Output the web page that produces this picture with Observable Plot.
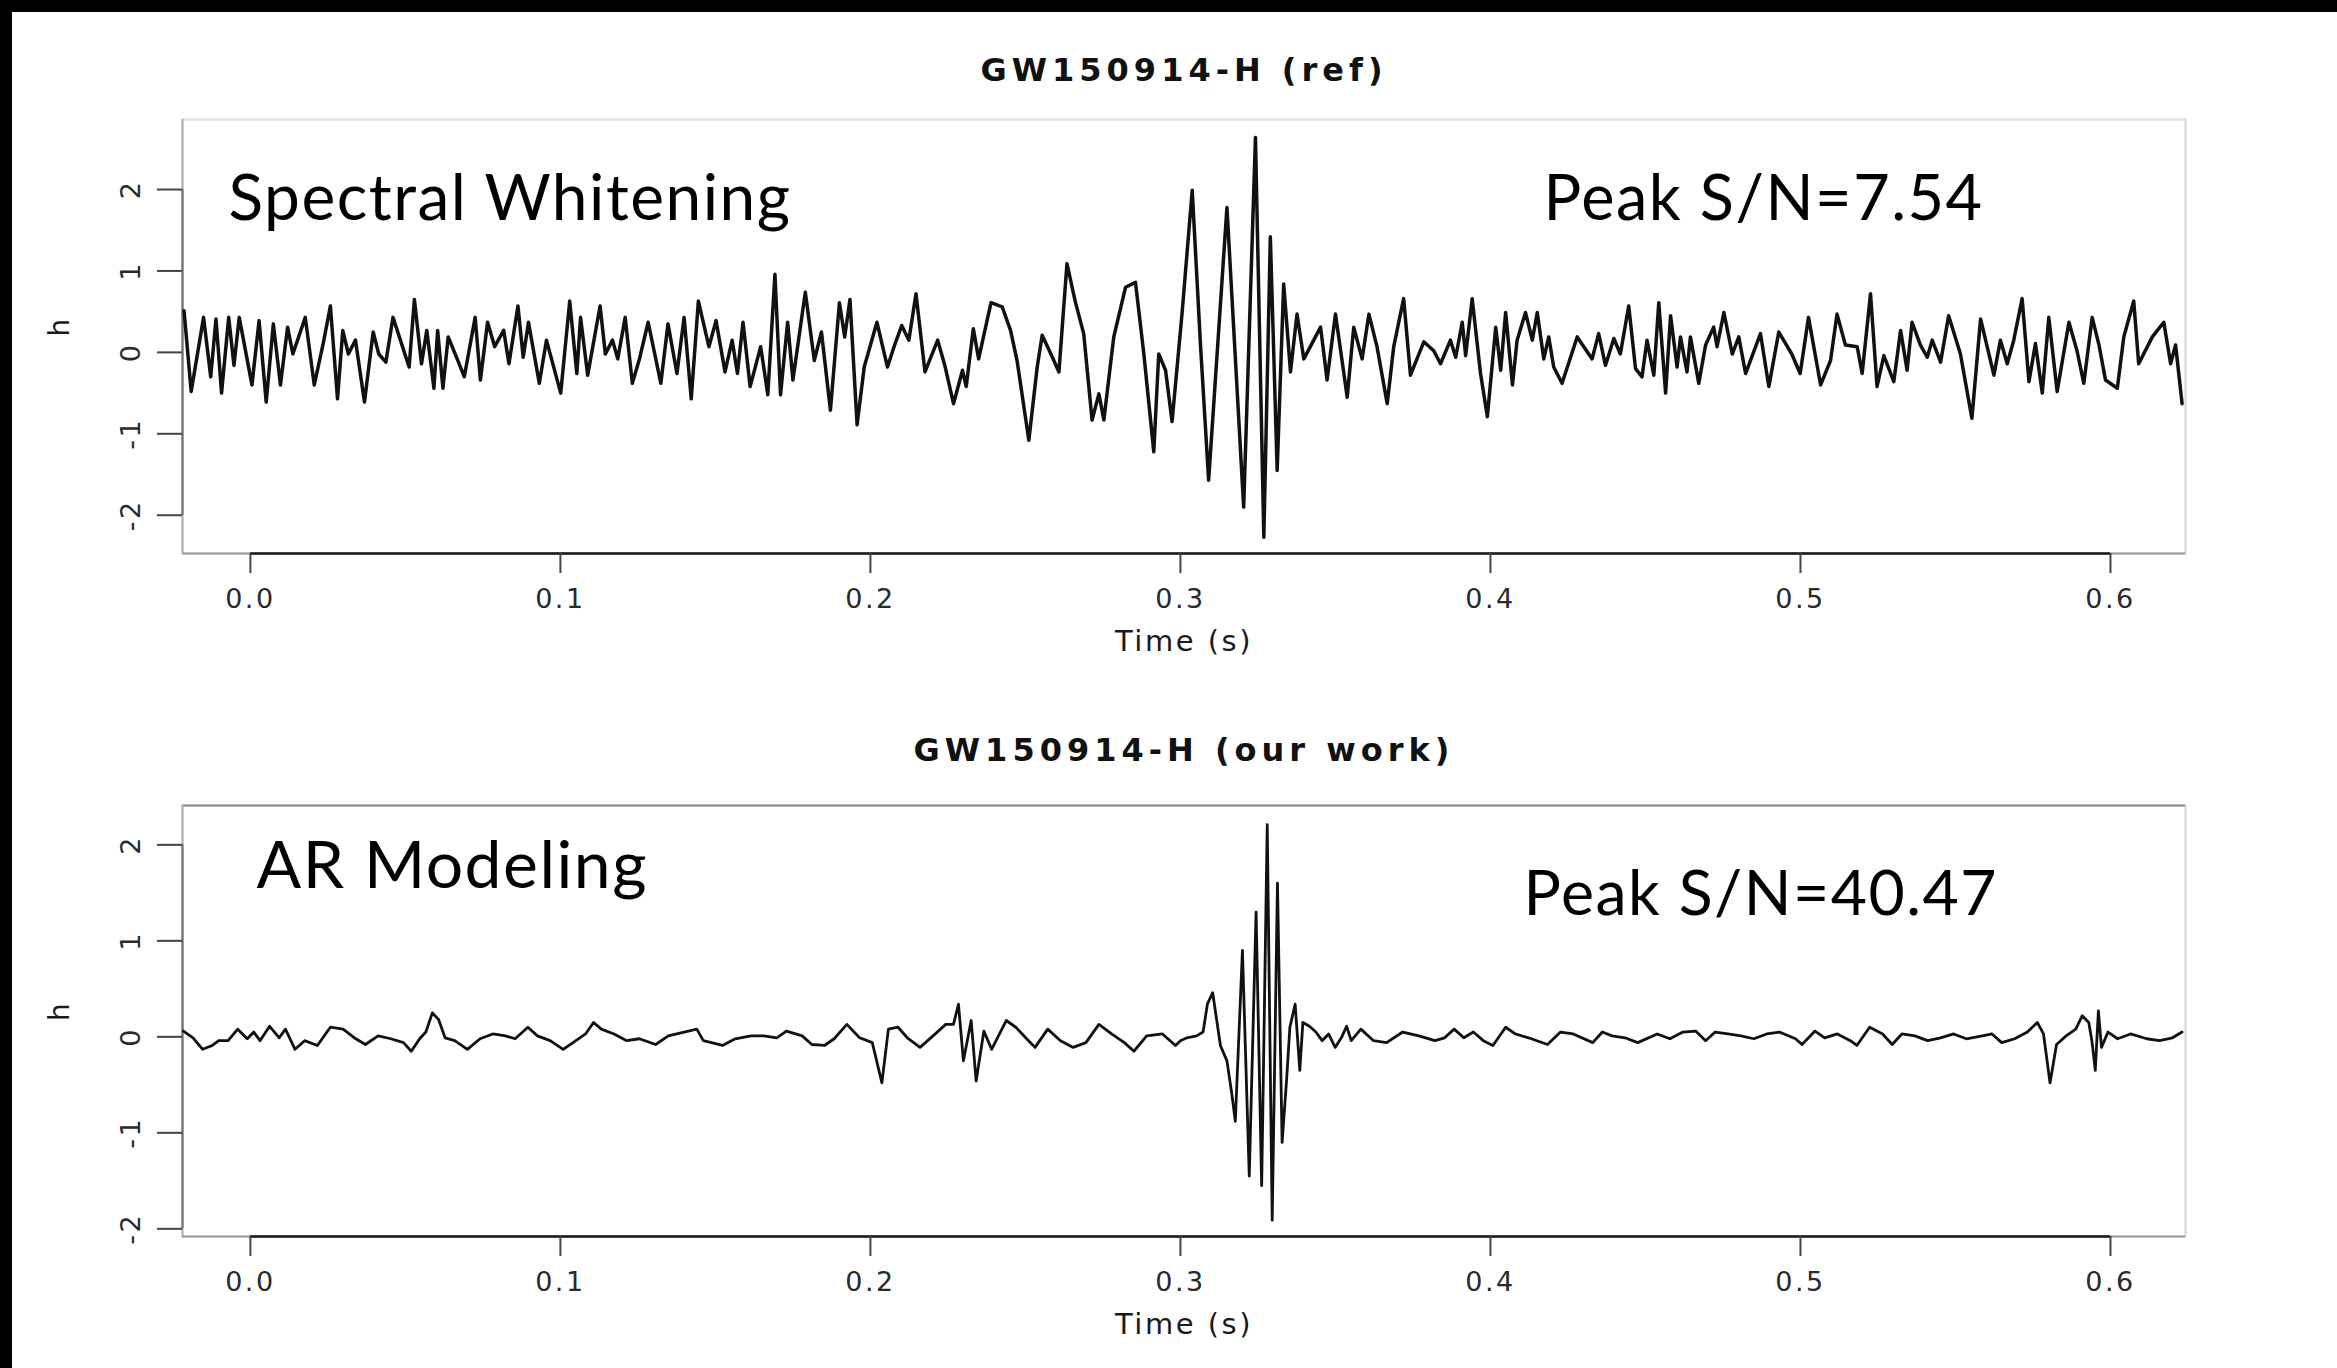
<!DOCTYPE html>
<html><head><meta charset="utf-8">
<script src="https://cdn.jsdelivr.net/npm/d3@7"></script>
<script src="https://cdn.jsdelivr.net/npm/@observablehq/plot@0.6"></script>
<style>
html,body{margin:0;padding:0;background:#000;width:2337px;height:1368px;overflow:hidden;}
#page{position:absolute;left:12px;top:12px;width:2325px;height:1356px;background:#fff;overflow:hidden;}
.panel{position:absolute;left:-12px;}
</style></head>
<body><div id="page"><div id="top" class="panel" style="top:-12px"></div><div id="bottom" class="panel" style="top:668px"></div></div>
<script>
// ---- tick labels / axes ----
const xTicks = [0, 0.1, 0.2, 0.3, 0.4, 0.5, 0.6];
const yTicks = [-2, -1, 0, 1, 2];
const xDomain = [-0.0219, 0.6242];
const refDomain = [-2.47, 2.86];
const arDomain = [-2.08, 2.41];
const titles = ["GW150914-H (ref)", "GW150914-H (our work)"];
const methods = ["Spectral Whitening", "AR Modeling"];
const peaks = ["Peak S/N=7.54", "Peak S/N=40.47"];
const xLabel = "Time (s)";
const yLabel = "h";

// ---- GW150914-H (ref): spectral whitening ----
const refT = [
-0.0214,-0.0191,-0.0151,-0.0128,-0.0111,-0.0093,-0.0070,-0.0053,-0.0036,0.0005,
0.0028,0.0051,0.0074,0.0097,0.0120,0.0137,0.0177,0.0206,0.0235,0.0258,
0.0281,0.0298,0.0316,0.0339,0.0368,0.0396,0.0414,0.0437,0.0460,0.0512,
0.0529,0.0552,0.0569,0.0592,0.0604,0.0621,0.0638,0.0667,0.0690,0.0725,
0.0742,0.0765,0.0788,0.0817,0.0834,0.0863,0.0880,0.0897,0.0932,0.0955,
0.1001,0.1030,0.1053,0.1065,0.1088,0.1128,0.1145,0.1168,0.1185,0.1209,
0.1232,0.1255,0.1283,0.1324,0.1347,0.1376,0.1399,0.1422,0.1445,0.1479,
0.1502,0.1531,0.1554,
0.1571,0.1589,0.1612,0.1646,0.1669,0.1692,0.1710,0.1733,0.1750,0.1790,
0.1819,0.1842,0.1871,0.1900,0.1917,0.1934,0.1957,0.1980,0.2021,0.2055,
0.2078,0.2101,0.2124,0.2147,0.2176,0.2217,0.2240,0.2268,0.2297,0.2309,
0.2332,0.2349,0.2389,
0.2425,0.2452,0.2473,0.2511,0.2538,0.2554,0.2587,0.2608,0.2634,0.2661,
0.2688,0.2715,0.2737,0.2753,0.2785,0.2823,0.2855,0.2882,0.2914,0.2930,
0.2952,0.2973,0.3005,0.3038,0.3065,0.3091,0.3150,0.3204,0.3242,0.3269,
0.3290,0.3312,0.3333,
0.3355,0.3376,0.3398,0.3419,0.3452,0.3473,0.3500,0.3538,0.3559,0.3586,
0.3608,0.3634,0.3667,0.3688,0.3720,0.3742,0.3785,0.3817,0.3839,0.3871,
0.3888,0.3909,0.3920,0.3941,0.3968,0.3990,0.4017,0.4033,0.4049,0.4071,
0.4086,0.4113,0.4135,0.4151,0.4172,0.4188,0.4204,0.4231,0.4280,0.4301,
0.4328,0.4349,0.4371,0.4398,0.4419,0.4446,0.4468,0.4489,0.4505,0.4527,
0.4543,0.4565,0.4581,0.4602,0.4613,0.4634,0.4645,0.4672,0.4694,0.4720,
0.4731,0.4753,0.4780,
0.4801,0.4823,0.4871,0.4898,0.4930,0.4972,0.4999,0.5026,0.5065,0.5097,
0.5118,0.5145,0.5183,0.5199,0.5226,0.5247,0.5269,0.5301,0.5323,0.5344,
0.5360,0.5387,0.5409,0.5425,0.5452,0.5478,0.5516,0.5553,0.5581,0.5624,
0.5645,0.5667,0.5688,0.5715,0.5737,0.5758,0.5780,0.5801,0.5828,0.5866,
0.5892,0.5914,0.5941,0.5963,0.5984,0.6022,0.6043,0.6075,0.6091,0.6135,
0.6172,0.6194,0.6210,0.6231
];
const refH = [
0.51,-0.48,0.43,-0.30,0.41,-0.50,0.43,-0.16,0.43,-0.40,
0.39,-0.61,0.35,-0.40,0.31,-0.02,0.43,-0.40,0.11,0.57,
-0.57,0.27,-0.02,0.15,-0.61,0.25,-0.02,-0.12,0.43,-0.18,
0.65,-0.14,0.27,-0.44,0.27,-0.44,0.19,-0.08,-0.30,0.43,
-0.34,0.37,0.07,0.27,-0.14,0.57,-0.06,0.37,-0.38,0.15,
-0.50,0.63,-0.26,0.43,-0.28,0.57,-0.02,0.15,-0.08,0.43,
-0.38,-0.08,0.37,-0.38,0.35,-0.26,0.43,-0.57,0.63,0.07,
0.39,-0.24,0.15,
-0.26,0.37,-0.42,0.07,-0.52,0.96,-0.52,0.37,-0.34,0.74,
-0.10,0.25,-0.71,0.61,0.19,0.65,-0.89,-0.18,0.37,-0.18,
0.09,0.33,0.15,0.72,-0.24,0.15,-0.16,-0.63,-0.22,-0.42,
0.29,-0.08,0.61,
0.56,0.27,-0.10,-1.08,-0.18,0.21,-0.06,-0.24,1.09,0.62,
0.23,-0.83,-0.51,-0.83,0.19,0.80,0.86,-0.02,-1.22,-0.02,
-0.22,-0.85,0.47,1.99,0.07,-1.57,1.78,-1.90,2.64,-2.27,
1.42,-1.45,0.84,
-0.24,0.47,-0.08,0.07,0.31,-0.34,0.47,-0.55,0.31,-0.08,
0.47,0.07,-0.63,0.07,0.66,-0.28,0.13,0.02,-0.14,0.15,
-0.06,0.37,-0.04,0.66,-0.26,-0.79,0.31,-0.22,0.49,-0.40,
0.15,0.49,0.15,0.49,-0.08,0.19,-0.18,-0.38,0.19,0.07,
-0.08,0.23,-0.16,0.17,-0.02,0.57,-0.20,-0.30,0.15,-0.28,
0.61,-0.50,0.45,-0.18,0.19,-0.24,0.19,-0.38,0.09,0.31,
0.07,0.49,-0.02,
0.19,-0.26,0.23,-0.42,0.25,-0.02,-0.26,0.43,-0.40,-0.10,
0.47,0.09,0.07,-0.26,0.72,-0.42,-0.04,-0.36,0.27,-0.22,
0.37,0.09,-0.06,0.15,-0.12,0.45,-0.02,-0.81,0.41,-0.28,
0.15,-0.14,0.15,0.66,-0.36,0.11,-0.50,0.43,-0.48,0.37,
0.02,-0.38,0.43,0.09,-0.34,-0.44,0.19,0.63,-0.14,0.19,
0.37,-0.14,0.09,-0.63
];

// ---- GW150914-H (our work): AR modeling ----
const arT = [
-0.0216,-0.0185,-0.0154,-0.0123,-0.0102,-0.0072,-0.0041,-0.0010,0.0011,0.0031,
0.0062,0.0093,0.0113,0.0144,0.0175,0.0216,0.0258,0.0299,0.0340,0.0371,
0.0412,0.0453,0.0494,0.0519,0.0546,0.0566,0.0587,0.0607,0.0628,0.0659,
0.0700,0.0741,0.0782,0.0823,0.0854,0.0895,0.0926,0.0967,0.1009,0.1050,
0.1081,0.1107,0.1132,0.1173,0.1214,0.1255,0.1307,0.1348,0.1399,0.1440,
0.1461,0.1523,0.1564,0.1615,0.1657,0.1698,0.1729,0.1780,0.1811,0.1852,
0.1883,0.1924,0.1965,0.2006,0.2037,0.2058,0.2089,0.2119,0.2160,0.2202,
0.2243,0.2268,0.2284,0.2300,0.2325,0.2341,0.2366,0.2391,0.2438,0.2469,
0.2510,0.2531,0.2572,0.2613,0.2654,0.2695,0.2737,0.2778,0.2819,0.2850,
0.2891,0.2942,0.2984,
0.3000,0.3021,0.3052,0.3073,0.3087,0.3104,0.3114,0.3129,0.3150,0.3166,
0.3177,0.3200,0.3222,0.3244,0.3262,0.3280,0.3296,0.3313,0.3328,0.3343,
0.3353,0.3370,0.3385,0.3395,0.3416,0.3437,0.3457,0.3478,0.3499,0.3519,
0.3536,0.3551,0.3582,0.3623,0.3665,0.3717,0.3769,0.3821,0.3852,0.3883,
0.3914,0.3945,0.3977,0.4008,0.4049,0.4080,0.4132,0.4184,0.4226,0.4267,
0.4330,0.4361,0.4392,0.4434,0.4475,0.4538,0.4579,0.4621,0.4662,0.4694,
0.4725,0.4766,0.4808,0.4850,0.4891,0.4932,0.4984,0.5005,0.5047,0.5078,
0.5119,0.5161,0.5182,0.5223,0.5265,0.5296,0.5327,0.5369,0.5410,0.5452,
0.5494,0.5535,0.5587,0.5618,0.5649,0.5691,0.5732,0.5764,0.5784,0.5805,
0.5826,0.5857,0.5888,0.5909,0.5930,0.5940,0.5951,0.5961,0.5971,0.5992,
0.6023,0.6065,0.6117,0.6158,0.6200,0.6231
];
const arH = [
0.06,-0.01,-0.13,-0.09,-0.04,-0.04,0.08,-0.02,0.05,-0.04,
0.11,-0.01,0.08,-0.13,-0.04,-0.09,0.10,0.08,-0.02,-0.08,
0.01,-0.02,-0.06,-0.15,-0.02,0.05,0.25,0.18,-0.01,-0.04,
-0.13,-0.02,0.03,0.01,-0.02,0.10,0.01,-0.04,-0.13,-0.04,
0.03,0.15,0.08,0.03,-0.04,-0.02,-0.08,0.01,0.05,0.08,
-0.04,-0.09,-0.02,0.01,0.01,-0.01,0.06,0.01,-0.08,-0.09,
-0.02,0.13,-0.01,-0.06,-0.48,0.08,0.10,-0.01,-0.11,0.01,
0.13,0.13,0.34,-0.25,0.17,-0.46,0.06,-0.13,0.17,0.10,
-0.04,-0.11,0.08,-0.04,-0.11,-0.06,0.13,0.03,-0.06,-0.15,
0.01,0.03,-0.09,
-0.04,-0.01,0.01,0.05,0.34,0.46,0.24,-0.09,-0.25,-0.60,
-0.88,0.90,-1.45,1.30,-1.55,2.21,-1.91,1.60,-1.10,-0.42,
0.10,0.34,-0.35,0.15,0.11,0.05,-0.04,0.03,-0.11,-0.01,
0.11,-0.04,0.08,-0.04,-0.06,0.05,0.01,-0.04,-0.01,0.08,
-0.01,0.05,-0.04,-0.09,0.10,0.03,-0.02,-0.08,0.05,0.03,
-0.06,0.05,0.01,-0.01,-0.06,0.03,-0.02,0.05,0.06,-0.04,
0.05,0.03,0.01,-0.02,0.03,0.05,-0.02,-0.08,0.06,-0.01,
0.03,-0.04,-0.09,0.10,0.03,-0.08,0.03,0.01,-0.04,-0.01,
0.03,-0.02,0.01,0.03,-0.06,-0.02,0.05,0.15,0.03,-0.48,
-0.08,0.01,0.08,0.22,0.15,-0.04,-0.35,0.27,-0.11,0.05,
-0.02,0.03,-0.02,-0.04,-0.01,0.05
];

const refData = refT.map((t, i) => ({t, h: refH[i]}));
const arData = arT.map((t, i) => ({t, h: arH[i]}));

function panel({data, yDomain, title, method, peak, height, marginTop, marginBottom, strokeWidth, topEdge, mDx, mDy, mSize, pDx, pDy, pSize}) {
  const svg = Plot.plot({
    width: 2337,
    height,
    marginLeft: 182,
    marginRight: 152,
    marginTop,
    marginBottom,
    x: {domain: xDomain},
    y: {domain: yDomain},
    style: {background: "none", fontFamily: "DejaVu Sans", overflow: "visible", color: "#222"},
    marks: [
      Plot.frame({stroke: "#d6d6d6", strokeWidth: 2}),
      Plot.ruleY([yDomain[1]], {stroke: topEdge, strokeWidth: 2}),
      Plot.ruleY([yDomain[0]], {stroke: "#9a9a9a", strokeWidth: 2}),
      Plot.ruleY([yDomain[0]], {x1: xTicks[0], x2: xTicks[xTicks.length - 1], stroke: "#1a1a1a", strokeWidth: 2.5}),
      Plot.ruleX([xDomain[0]], {stroke: "#b0b0b0", strokeWidth: 2}),
      Plot.ruleX([xDomain[0]], {y1: yTicks[0], y2: yTicks[yTicks.length - 1], stroke: "#707070", strokeWidth: 2}),
      Plot.axisX(xTicks, {tickSize: 20, fill: "none", stroke: "#444", strokeWidth: 2}),
      Plot.axisY(yTicks, {tickSize: 25, fill: "none", stroke: "#444", strokeWidth: 2}),
      Plot.text(xTicks, {x: d => d, frameAnchor: "bottom", dy: 46, lineAnchor: "middle", text: d => d.toFixed(1), fontSize: 27, fill: "#2a2a2a"}),
      Plot.text(yTicks, {y: d => d, frameAnchor: "left", dx: -51, rotate: -90, lineAnchor: "middle", textAnchor: "middle", text: d => String(d), fontSize: 27, fill: "#2a2a2a"}),
      Plot.text([xLabel], {frameAnchor: "bottom", dy: 88, lineAnchor: "middle", text: d => d, fontSize: 29, fill: "#1a1a1a"}),
      Plot.text([yLabel], {frameAnchor: "left", dx: -122, rotate: -90, lineAnchor: "middle", text: d => d, fontSize: 28, fill: "#1a1a1a"}),
      Plot.text([title], {frameAnchor: "top", dy: -marginTop + 70, lineAnchor: "middle", text: d => d, fontSize: 32, fontWeight: "bold", fill: "#111"}),
      Plot.line(data, {x: "t", y: "h", stroke: "#111", strokeWidth, strokeLinejoin: "round"}),
      Plot.text([method], {frameAnchor: "top-left", dx: mDx, dy: mDy, lineAnchor: "bottom", textAnchor: "start", text: d => d, fontFamily: "Lato", fontSize: mSize, fill: "#000"}),
      Plot.text([peak], {frameAnchor: "top-left", dx: pDx, dy: pDy, lineAnchor: "bottom", textAnchor: "start", text: d => d, fontFamily: "Lato", fontSize: pSize, fill: "#000"})
    ]
  });
  svg.querySelectorAll('g[aria-label="text"]').forEach(g => {
    const ff = g.getAttribute("font-family") || "";
    const fw = g.getAttribute("font-weight") || "";
    g.setAttribute("letter-spacing", ff.includes("Lato") ? "1.5" : fw === "bold" ? "5" : "2.5");
  });
  return svg;
}

document.getElementById("top").appendChild(panel({
  data: refData, yDomain: refDomain, title: titles[0], method: methods[0], peak: peaks[0],
  height: 665, marginTop: 119, marginBottom: 112, strokeWidth: 3.5, topEdge: "#e4e4e4",
  mDx: 46, mDy: 100, mSize: 64, pDx: 1361, pDy: 100, pSize: 63
}));
document.getElementById("bottom").appendChild(panel({
  data: arData, yDomain: arDomain, title: titles[1], method: methods[1], peak: peaks[1],
  height: 688, marginTop: 125, marginBottom: 132, strokeWidth: 2.8, topEdge: "#8a8a8a",
  mDx: 74, mDy: 82, mSize: 66, pDx: 1341, pDy: 109, pSize: 62.5
}));
</script></body></html>
